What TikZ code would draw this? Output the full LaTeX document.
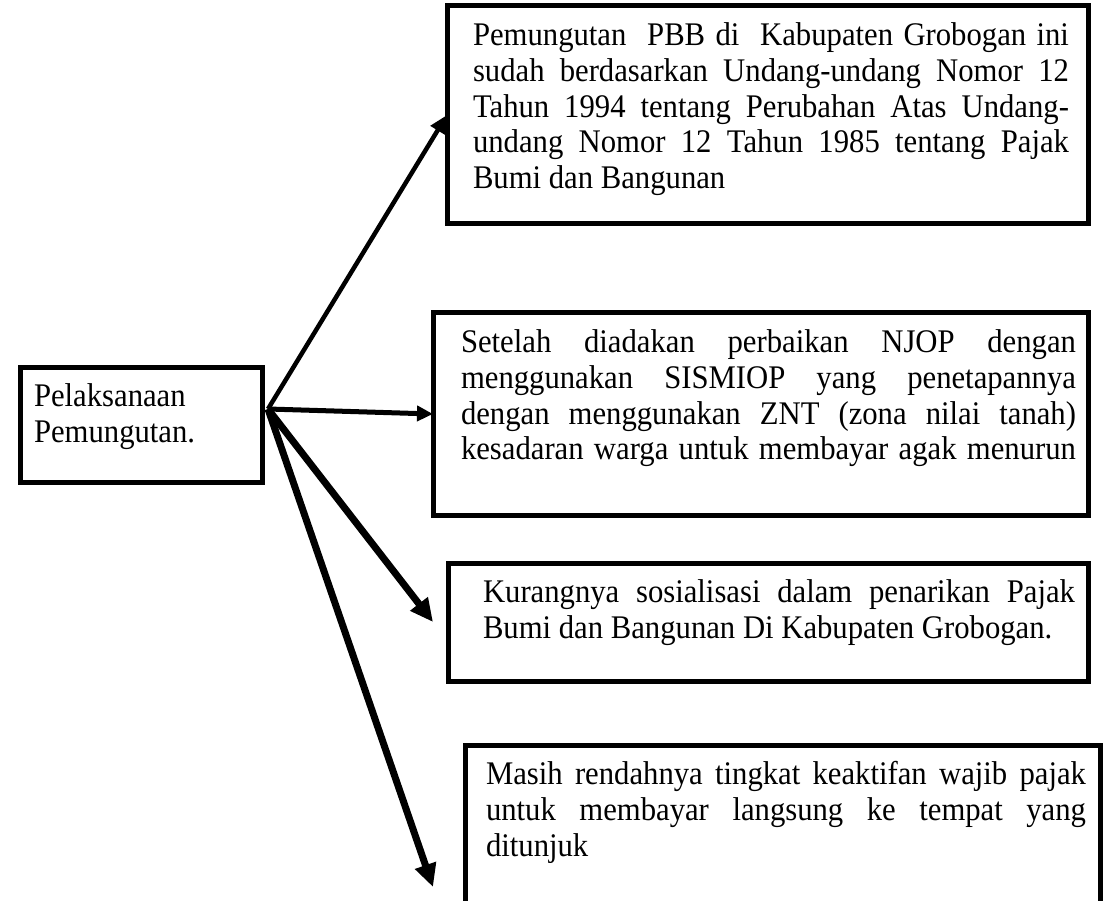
\documentclass[tikz,border=0pt]{standalone}
\usepackage{fontspec}
\setmainfont{Liberation Serif}[FakeStretch=0.93]
\usetikzlibrary{arrows.meta,calc}
\newlength\twd
\newcommand\jl[1]{\makebox[\twd][s]{\strut #1}\\}
\newcommand\jlast[1]{\makebox[\twd][s]{\strut #1}}
\newcommand\boxtext[5]{\parbox[c][#2][t]{#1}{\vspace*{15pt}\hspace*{#3}\parbox[t]{#4}{\setlength\twd{#4}\fontsize{33}{35.65}\selectfont #5}}}
\tikzset{
  tbox/.style={draw=black, line width=5pt, inner sep=0pt, outer sep=0pt, anchor=north west},
  arrthin/.style={line width=4.5pt, -{Triangle[length=18pt,width=16pt]}},
  arrmid/.style={line width=5pt, -{Triangle[length=16pt,width=15pt]}},
  arrthick/.style={line width=7pt, -{Triangle[length=23pt,width=21pt]}}
}
\begin{document}
\begin{tikzpicture}[x=1pt,y=-1pt]
\clip (0,0) rectangle (1103,901);
\fill[white] (0,0) rectangle (1103,901);
\node[tbox] (L) at (20,367) {\boxtext{242pt}{115pt}{14pt}{215pt}{\strut Pelaksanaan\\\strut Pemungutan.}};
\node[tbox] (b1) at (447,6) {\boxtext{641pt}{218pt}{26pt}{596pt}{%
\jl{Pemungutan\ \ PBB di\ \ Kabupaten Grobogan ini}%
\jl{sudah berdasarkan Undang-undang Nomor 12}%
\jl{Tahun 1994 tentang Perubahan Atas Undang-}%
\jl{undang Nomor 12 Tahun 1985 tentang Pajak}%
\strut Bumi dan Bangunan}};
\node[tbox] (b2) at (433,313) {\boxtext{655pt}{202pt}{28pt}{615pt}{%
\jl{Setelah diadakan perbaikan NJOP dengan}%
\jl{menggunakan SISMIOP yang penetapannya}%
\jl{dengan menggunakan ZNT (zona nilai tanah)}%
\jlast{kesadaran warga untuk membayar agak menurun}}};
\node[tbox] (b3) at (448,563) {\boxtext{640pt}{118pt}{35pt}{592pt}{%
\jl{Kurangnya sosialisasi dalam penarikan Pajak}%
\strut Bumi dan Bangunan Di Kabupaten Grobogan.}};
\node[tbox] (b4) at (465,745) {\boxtext{635pt}{215pt}{21pt}{600pt}{%
\jl{Masih rendahnya tingkat keaktifan wajib pajak}%
\jl{untuk membayar langsung ke tempat yang}%
\strut ditunjuk}};
\coordinate (o) at (268,409);
\coordinate (t3) at ($(b3.west)+(-15,0)$);
\coordinate (t4) at (433,887);
\draw[arrthin] (o) -- (b1.west);
\draw[arrmid] (o) -- (b2.west);
\draw[arrthick] (o) -- (t3);
\draw[arrthick] (o) -- (t4);
\end{tikzpicture}
\end{document}
